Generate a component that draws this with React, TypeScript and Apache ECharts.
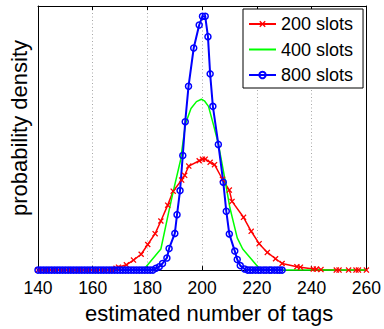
import React, { useEffect, useRef } from "react";
import * as echarts from "echarts";

// ---------- data ----------
const seriesNames = ["200 slots", "400 slots", "800 slots"];
const xTickMin = 140;
const xTickMax = 260;
const xTickStep = 20;

// 200 slots (red, x markers)
const redX = [
  140, 141.5, 143, 144.5, 146, 147.5, 149, 150.5, 152, 153.5, 155, 156.5, 158, 159.5, 161, 162.5, 164, 165.5, 167,
  168.5, 169.4, 172.3, 174.9, 177.7, 180.1, 182.8, 184.9, 187.4, 189.4, 192.5, 193.6, 195.1, 198.9, 200.1, 201.1,
  202.9, 204.5, 207.4, 209.9, 210.9, 215.1, 217.9, 220.8, 223.8, 226.8, 229.2, 234.6, 235.9, 240.6, 241.7, 243.4,
  249.0, 250.0, 253.5, 256.2, 257.1, 260,
];
const redY = [
  0, 0, 0, 0, 0, 0, 0, 0, 0, 0, 0, 0, 0, 0, 0, 0, 0, 0, 0,
  0.0007, 0.0011, 0.002, 0.0038, 0.006, 0.0097, 0.0138, 0.0186, 0.0246, 0.0299, 0.0341, 0.0359, 0.0394, 0.0414,
  0.042, 0.042, 0.0408, 0.0399, 0.0344, 0.0303, 0.026, 0.02, 0.0147, 0.01, 0.0067, 0.0043, 0.0025, 0.0013, 0.0011,
  0.0004, 0.0004, 0.0002, 0, 0, 0, 0, 0, 0,
];

// 400 slots (green, plain line)
const greenX = [
  140, 177.7, 178.8, 184.9, 187.7, 189.4, 192.1, 193.9, 195.9, 197.9, 199.7, 200.8, 202.3, 204.1, 205.9, 208.3,
  210.1, 212.8, 214.8, 220.8, 221.6, 260,
];
const greenY = [
  0, 0, 0.0004, 0.008, 0.0217, 0.0297, 0.0417, 0.0554, 0.0612, 0.0638, 0.0647, 0.0641, 0.062, 0.0551, 0.0478,
  0.0344, 0.0237, 0.0122, 0.008, 0.0007, 0, 0,
];

// 800 slots (blue, circle markers)
const blueX = [
  140, 141, 142, 143, 144, 145, 146, 147, 148, 149, 150, 151, 152, 153, 154, 155, 156, 157, 158, 159, 160, 161, 162,
  163, 164, 165, 166, 167, 168, 169, 170, 171, 172, 173, 174, 175, 176, 177, 178, 179, 180, 181, 182,
  183.1, 184.3, 185.5, 187.1, 187.9, 190.0, 190.8, 191.9, 192.9, 193.8, 195.0, 196.9, 198.9, 200.1, 201.1, 202.1,
  202.9, 203.9, 205.9, 207.7, 208.8, 209.9, 211.9, 212.8, 213.9, 215.5,
  216.6, 217.5, 218.4, 219.5, 220.5, 221.4, 222.5, 223.4, 224.5, 225.3, 226.4, 227.4, 228.3, 229.2,
];
const blueY = [
  0, 0, 0, 0, 0, 0, 0, 0, 0, 0, 0, 0, 0, 0, 0, 0, 0, 0, 0, 0, 0, 0, 0,
  0, 0, 0, 0, 0, 0, 0, 0, 0, 0, 0, 0, 0, 0, 0, 0, 0, 0, 0, 0,
  0.0007, 0.0013, 0.0025, 0.0046, 0.0082, 0.0139, 0.021, 0.0301, 0.0434, 0.0562, 0.0696, 0.0841, 0.0928, 0.0961,
  0.0961, 0.0884, 0.0743, 0.062, 0.0476, 0.0333, 0.0223, 0.0137, 0.0072, 0.004, 0.0017, 0.0004,
  0, 0, 0, 0, 0, 0, 0, 0, 0, 0, 0, 0, 0, 0,
];

const xName = "estimated number of tags";
const yName = "probability density";

const pair = (xs: number[], ys: number[]) => xs.map((x, i) => [x, ys[i]]);

const FONT = "Liberation Sans";
const X_SYMBOL =
  "path://M0,1.5L1.5,0L5,3.5L8.5,0L10,1.5L6.5,5L10,8.5L8.5,10L5,6.5L1.5,10L0,8.5L3.5,5Z";

export default function App() {
  const ref = useRef<HTMLDivElement>(null);

  useEffect(() => {
    if (!ref.current) return;
    const chart = echarts.init(ref.current, null, { renderer: "svg" });

    const xCommon = {
      type: "value" as const,
      min: xTickMin,
      max: xTickMax,
      interval: xTickStep,
    };

    chart.setOption({
      animation: false,
      backgroundColor: "#ffffff",
      textStyle: { fontFamily: FONT },
      grid: { left: 35, right: 15, top: 6, bottom: 47, containLabel: false },
      legend: {
        orient: "vertical",
        left: 243,
        top: 9,
        padding: [6, 10, 4, 5],
        itemGap: 7.5,
        itemWidth: 27,
        itemHeight: 8,
        backgroundColor: "#ffffff",
        borderColor: "#000000",
        borderWidth: 1,
        borderRadius: 0,
        textStyle: { fontFamily: FONT, fontSize: 18, lineHeight: 18, color: "#000000" },
        data: [
          { name: seriesNames[0] },
          { name: seriesNames[1], itemStyle: { opacity: 0 } },
          { name: seriesNames[2] },
        ],
      },
      xAxis: [
        {
          ...xCommon,
          position: "bottom",
          name: xName,
          nameLocation: "middle",
          nameGap: 24,
          nameTextStyle: { fontFamily: FONT, fontSize: 22, color: "#000000", padding: [0, 0, 0, 14] },
          axisLine: { show: true, onZero: false, lineStyle: { color: "#000000", width: 1 } },
          axisTick: { show: true, inside: true, length: 4, lineStyle: { color: "#000000" } },
          axisLabel: { show: true, margin: 9, fontFamily: FONT, fontSize: 17.5, color: "#000000" },
          splitLine: {
            show: true,
            lineStyle: { color: "#a8a8a8", width: 1, type: [1, 2.5] },
          },
        },
        {
          ...xCommon,
          position: "top",
          axisLine: { show: true, onZero: false, lineStyle: { color: "#000000", width: 1 } },
          axisTick: { show: true, inside: true, length: 4, lineStyle: { color: "#000000" } },
          axisLabel: { show: false },
          splitLine: { show: false },
        },
      ],
      yAxis: [
        {
          type: "value",
          min: 0,
          max: 0.1,
          position: "left",
          name: yName,
          nameLocation: "middle",
          nameGap: 8,
          nameTextStyle: { fontFamily: FONT, fontSize: 22, color: "#000000", padding: [0, 0, 0, 20] },
          axisLine: { show: true, onZero: false, lineStyle: { color: "#000000", width: 1 } },
          axisTick: { show: false },
          axisLabel: { show: false },
          splitLine: { show: false },
        },
        {
          type: "value",
          min: 0,
          max: 0.1,
          position: "right",
          axisLine: { show: true, onZero: false, lineStyle: { color: "#000000", width: 1 } },
          axisTick: { show: false },
          axisLabel: { show: false },
          splitLine: { show: false },
        },
      ],
      series: [
        {
          name: seriesNames[0],
          type: "line",
          data: pair(redX, redY),
          symbol: X_SYMBOL,
          symbolSize: 6,
          showAllSymbol: true,
          lineStyle: { color: "#ff0000", width: 1.5 },
          itemStyle: { color: "#ff0000" },
          clip: false,
        },
        {
          name: seriesNames[1],
          type: "line",
          data: pair(greenX, greenY),
          symbol: "none",
          showSymbol: false,
          lineStyle: { color: "#00ff00", width: 1.5 },
          itemStyle: { color: "#00ff00" },
          clip: false,
        },
        {
          name: seriesNames[2],
          type: "line",
          data: pair(blueX, blueY),
          symbol: "circle",
          symbolSize: 6,
          showAllSymbol: true,
          lineStyle: { color: "#0000ff", width: 2 },
          itemStyle: { color: "rgba(0,0,0,0)", borderColor: "#0000ff", borderWidth: 1.5 },
          clip: false,
        },
      ],
    });

    return () => chart.dispose();
  }, []);

  return (
    <div
      ref={ref}
      style={{ position: "fixed", left: 0, top: 0, width: 384, height: 329, background: "#fff" }}
    />
  );
}
